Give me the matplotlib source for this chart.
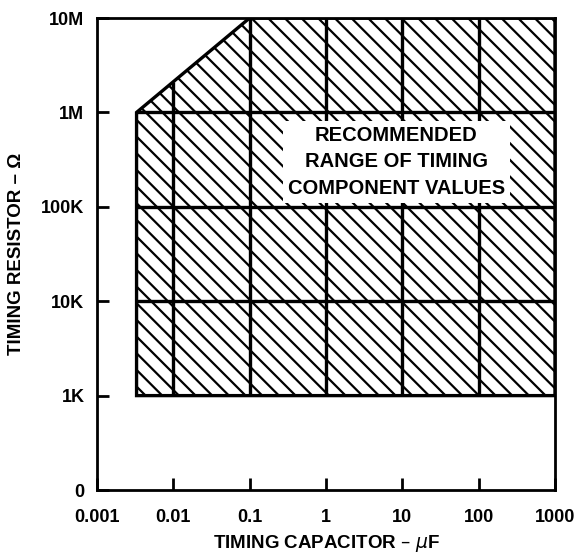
import numpy as np
import matplotlib
matplotlib.use("Agg")
import matplotlib.pyplot as plt
from matplotlib.patches import Polygon

# timing capacitor (uF) and resistor (ohm) decades
cap_ticks = [0.001, 0.01, 0.1, 1, 10, 100, 1000]
cap_labels = ["0.001", "0.01", "0.1", "1", "10", "100", "1000"]
res_ticks = [100, 1e3, 1e4, 1e5, 1e6, 1e7]
res_labels = ["0", "1K", "10K", "100K", "1M", "10M"]

# outline of the recommended region
region_c = [0.0033, 1000, 1000, 0.1, 0.0033]
region_r = [1e3, 1e3, 1e7, 1e7, 1e6]

# inner grid inside the region
grid_c = [0.01, 0.1, 1, 10, 100]
grid_r = [1e4, 1e5, 1e6]

plt.rcParams['font.family'] = ['Liberation Sans', 'DejaVu Sans']
plt.rcParams['hatch.linewidth'] = 1.6

fig = plt.figure(figsize=(5.79, 5.54), dpi=100)
ax = fig.add_axes([0.1675, 0.1155, 0.791, 0.852])
ax.set_xscale('log')
ax.set_yscale('log')
ax.set_xlim(cap_ticks[0], cap_ticks[-1])
ax.set_ylim(res_ticks[0], res_ticks[-1])

poly = Polygon(np.column_stack([region_c, region_r]), closed=True, fill=False,
               hatch='\\\\', edgecolor='black', linewidth=2.4, zorder=2)
ax.add_patch(poly)

# top edge of the region along the diagonal (log-log straight line)
def top_of_region(c):
    lc = np.log10(c)
    lr = np.interp(lc, np.log10([region_c[4], region_c[3]]),
                   np.log10([region_r[4], region_r[3]]))
    return 10 ** lr

for c in grid_c:
    ax.plot([c, c], [region_r[0], top_of_region(c)], color='black', lw=2.4,
            solid_capstyle='butt', zorder=3)
for r in grid_r:
    ax.plot([region_c[0], region_c[1]], [r, r], color='black', lw=2.4,
            solid_capstyle='butt', zorder=3)

ax.text(8.3, 3.0e5, "RECOMMENDED\nRANGE OF TIMING\nCOMPONENT VALUES",
        ha='center', va='center', fontsize=14.5, fontweight='bold',
        linespacing=1.5, zorder=5,
        bbox=dict(boxstyle='square,pad=0.25', facecolor='white', edgecolor='none'))

ax.set_xticks(cap_ticks)
ax.set_xticklabels(cap_labels)
ax.set_yticks(res_ticks)
ax.set_yticklabels(res_labels)
ax.minorticks_off()
ax.tick_params(axis='x', direction='in', length=8.5, width=2, pad=14,
               labelsize=13)
ax.tick_params(axis='y', direction='in', length=8.5, width=2, pad=9,
               labelsize=13)
for lab in ax.get_xticklabels() + ax.get_yticklabels():
    lab.set_fontweight('bold')
for s in ax.spines.values():
    s.set_linewidth(2)

ax.set_xlabel("TIMING CAPACITOR – $\\mu$F", fontsize=13.5, fontweight='bold',
              labelpad=5)
ax.set_ylabel("TIMING RESISTOR – Ω", fontsize=13.5, fontweight='bold',
              labelpad=12)

fig.savefig("out.png", dpi=100)
